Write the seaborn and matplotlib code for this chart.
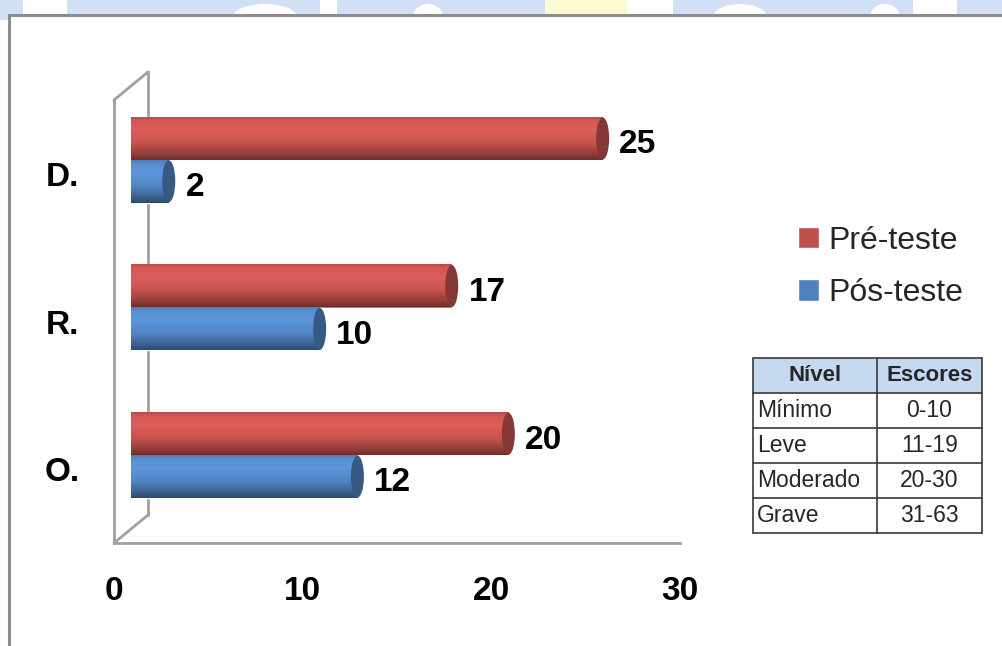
import matplotlib
matplotlib.use("Agg")
import matplotlib.pyplot as plt
import seaborn as sns
import pandas as pd
import numpy as np
from matplotlib.patches import Ellipse, Rectangle
from matplotlib.lines import Line2D
from matplotlib.colors import to_rgb

# ---------------- data ----------------
categories = ["D.", "R.", "O."]
series_names = ["Pré-teste", "Pós-teste"]
pre_values = [25, 17, 20]
pos_values = [2, 10, 12]
x_ticks = [0, 10, 20, 30]
table_header = ["Nível", "Escores"]
table_levels = ["Mínimo", "Leve", "Moderado", "Grave"]
table_scores = ["0-10", "11-19", "20-30", "31-63"]

palette = {"Pré-teste": "#c0504d", "Pós-teste": "#4f81bd"}
axis_gray = "#a0a0a0"

df = pd.DataFrame({
    "cat": categories * 2,
    "serie": [series_names[0]] * len(categories) + [series_names[1]] * len(categories),
    "valor": pre_values + pos_values,
})

sns.set_theme(style="white")
plt.rcParams["font.family"] = ["Liberation Sans", "DejaVu Sans"]

W, H = 1003, 646
fig = plt.figure(figsize=(W / 100, H / 100), dpi=100)
fig.patch.set_facecolor("white")


def fx(px):
    return px / W


def fy(py):
    return 1 - py / H


# decorative watermark strip at the very top (behind the frame)
wm_blue = "#d2e0f6"
wm_blue_spans = [(0, 23), (67, 320), (337, 545), (673, 913), (957, 1003)]
wm_white_bumps = [(265, 32), (428, 15), (740, 27), (885, 15)]
for a, b in wm_blue_spans:
    fig.add_artist(Rectangle((fx(a), fy(20)), fx(b) - fx(a), 20 / H, transform=fig.transFigure,
                             facecolor=wm_blue, edgecolor="none", zorder=-3))
fig.add_artist(Rectangle((fx(545), fy(20)), fx(627) - fx(545), 20 / H, transform=fig.transFigure,
                         facecolor="#fdfbd3", edgecolor="none", zorder=-3))
for cx, r in wm_white_bumps:
    fig.add_artist(Ellipse((fx(cx), fy(17)), 2 * r / W, 26 / H, transform=fig.transFigure,
                           facecolor="white", edgecolor="none", zorder=-2.5))

# white frame
frame = Rectangle((fx(9), -0.2), 1.2, fy(15) + 0.2, transform=fig.transFigure,
                  facecolor="white", edgecolor="#8c8c8c", linewidth=2.2, zorder=-1)
fig.add_artist(frame)

# ---------------- axes geometry ----------------
ax_w = (680 - 114) / W
ax_h = (543 - 100) / H
ax_back = fig.add_axes([fx(114 + 34), fy(543 - 28), ax_w, ax_h], zorder=0)
ax = fig.add_axes([fx(114), fy(543), ax_w, ax_h], zorder=1)
ax_b = fig.add_axes([fx(114 + 17), fy(543 - 14), ax_w, ax_h], zorder=2)

for a in (ax_back, ax, ax_b):
    a.set_facecolor("none")
    a.set_xlim(0, 30)
    a.set_ylim(len(categories) - 0.5, -0.5)

# back wall
for s in ["top", "right", "bottom"]:
    ax_back.spines[s].set_visible(False)
ax_back.spines["left"].set_color(axis_gray)
ax_back.spines["left"].set_linewidth(2)
ax_back.set_xticks([])
ax_back.set_yticks([])

for (xa, ya), (xb, yb) in [((114, 100), (148, 72)), ((114, 543), (148, 515))]:
    fig.add_artist(Line2D([fx(xa), fx(xb)], [fy(ya), fy(yb)], transform=fig.transFigure,
                          color=axis_gray, linewidth=2, zorder=0.5))

# front axes
for s in ["top", "right"]:
    ax.spines[s].set_visible(False)
for s in ["left", "bottom"]:
    ax.spines[s].set_color(axis_gray)
    ax.spines[s].set_linewidth(2)
ax.set_xticks(x_ticks)
ax.set_xticklabels([str(t) for t in x_ticks], fontsize=24, fontweight="bold")
ax.tick_params(axis="x", direction="out", length=9, width=2, color=axis_gray,
               pad=15, labelcolor="black")
ax.set_yticks(np.arange(len(categories) + 1) - 0.5)
ax.set_yticklabels([])
ax.set_yticks(np.arange(len(categories)), minor=True)
ax.set_yticklabels(categories, minor=True, fontsize=24, fontweight="bold")
ax.tick_params(axis="y", which="major", direction="out", length=7.5, width=2, color=axis_gray)
ax.tick_params(axis="y", which="minor", length=0, pad=25, labelcolor="black")
ax.set_xlabel("")
ax.set_ylabel("")

# ---------------- bars ----------------
sns.barplot(data=df, y="cat", x="valor", hue="serie", order=categories,
            hue_order=series_names, palette=palette, orient="h", width=0.58,
            saturation=1, ax=ax_b, legend=True)
handles, labels = ax_b.get_legend_handles_labels()
if ax_b.legend_ is not None:
    ax_b.legend_.remove()
ax_b.axis("off")

rx = 6.5 * 30 / 566  # half-width of cylinder caps in data units

tk = np.array([0.0, 0.08, 0.3, 0.6, 0.85, 1.0])
amt = np.array([-0.04, 0.10, 0.16, 0.04, -0.22, -0.42])
tt = np.linspace(0, 1, 64)
aa = np.interp(tt, tk, amt)


def gradient(base):
    base = np.array(base)
    out = np.empty((len(tt), 1, 3))
    for i, a in enumerate(aa):
        out[i, 0] = base * (1 + a)
    return np.clip(out, 0, 1)


bar_patches = [p for p in ax_b.patches
               if p.get_height() != 0 and p.get_width() != 0 and not p.get_label().startswith("Pr")
               and not p.get_label().startswith("P\u00f3")]
for p in bar_patches:
    x0, y0, w, h = p.get_x(), p.get_y(), p.get_width(), p.get_height()
    if h < 0:
        y0, h = y0 + h, -h
    base = to_rgb(p.get_facecolor())
    grad = gradient(base)
    x1 = x0 + w
    ax_b.imshow(grad, extent=(x0, x1, y0 + h, y0), origin="upper", aspect="auto",
                interpolation="bilinear", zorder=2)
    left_cap = Ellipse((x0, y0 + h / 2), 2 * rx, h, transform=ax_b.transData)
    im = ax_b.imshow(grad, extent=(x0 - rx, x0 + rx, y0 + h, y0), origin="upper",
                     aspect="auto", interpolation="bilinear", zorder=2)
    im.set_clip_path(left_cap)
    end_col = np.array(base) * 0.7
    ax_b.add_patch(Ellipse((x1, y0 + h / 2), 2 * rx, h * 0.98, facecolor=end_col,
                           edgecolor="none", zorder=3))
    ax_b.annotate(f"{w:.0f}", xy=(x1, y0 + h / 2), xytext=(12, -4.5),
                  textcoords="offset points", ha="left", va="center",
                  fontsize=24, fontweight="bold", color="black", zorder=4)

ax_b.set_xlim(0, 30)
ax_b.set_ylim(len(categories) - 0.5, -0.5)

# ---------------- legend ----------------
fig.legend(handles, labels, loc="upper left", bbox_to_anchor=(fx(798), fy(226)),
           frameon=False, fontsize=23, handlelength=0.65, handleheight=0.65,
           handletextpad=0.3, labelspacing=0.7, borderpad=0, borderaxespad=0)

# ---------------- score table ----------------
tx = [753, 877, 982]
ty = [358, 393, 428, 463, 498, 533]
fig.add_artist(Rectangle((fx(tx[0]), fy(ty[1])), fx(tx[2]) - fx(tx[0]), fy(ty[0]) - fy(ty[1]),
                         transform=fig.transFigure, facecolor="#c6d9f1", edgecolor="none", zorder=4))
for yv in ty:
    fig.add_artist(Line2D([fx(tx[0]), fx(tx[2])], [fy(yv), fy(yv)], transform=fig.transFigure,
                          color="#3a3a3a", linewidth=1.2, zorder=5))
for xv in tx:
    fig.add_artist(Line2D([fx(xv), fx(xv)], [fy(ty[0]), fy(ty[-1])], transform=fig.transFigure,
                          color="#3a3a3a", linewidth=1.2, zorder=5))
c1 = (tx[0] + tx[1]) / 2
c2 = (tx[1] + tx[2]) / 2
fig.text(fx(c1), fy((ty[0] + ty[1]) / 2), table_header[0], ha="center", va="center",
         fontsize=16, fontweight="bold", zorder=6)
fig.text(fx(c2), fy((ty[0] + ty[1]) / 2), table_header[1], ha="center", va="center",
         fontsize=16, fontweight="bold", zorder=6)
for i, (lvl, sc) in enumerate(zip(table_levels, table_scores)):
    yc = (ty[i + 1] + ty[i + 2]) / 2
    fig.text(fx(tx[0] + 4), fy(yc), lvl, ha="left", va="center", fontsize=16.5, zorder=6)
    fig.text(fx(c2), fy(yc), sc, ha="center", va="center", fontsize=16.5, zorder=6)

fig.savefig("out.png", dpi=100, facecolor="white")
